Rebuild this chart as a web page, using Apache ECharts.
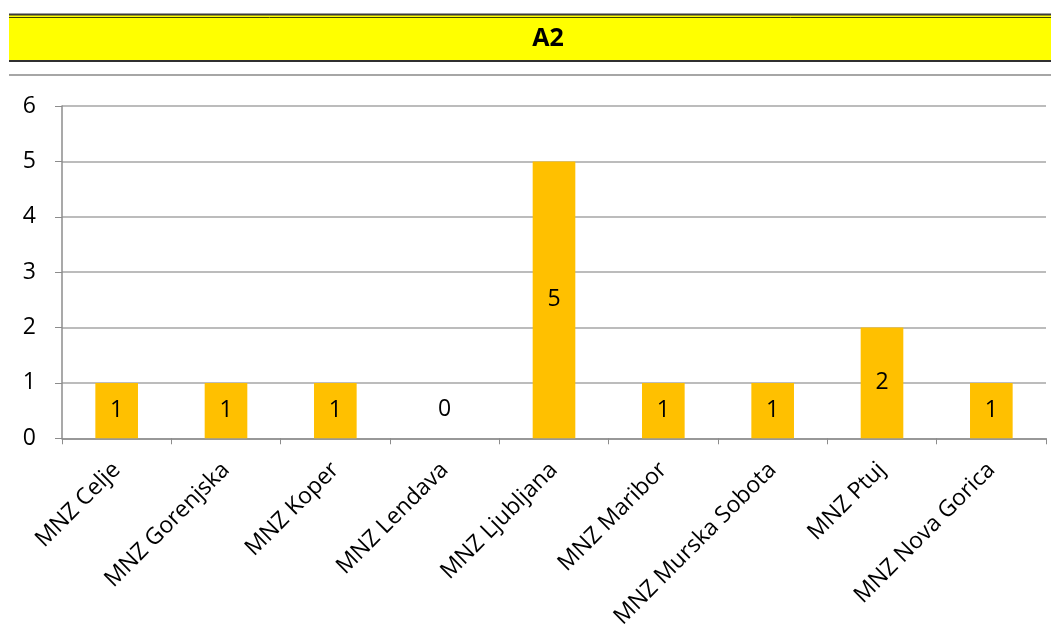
<!DOCTYPE html>
<html>
<head>
<meta charset="utf-8">
<script src="https://cdn.jsdelivr.net/npm/echarts@6/dist/echarts.min.js"></script>
<style>
html,body{margin:0;padding:0;background:#fff;}
#chart{width:1051px;height:631px;}
</style>
</head>
<body>
<div id="chart"></div>
<script>
const titleText = 'A2';
const categories = ['MNZ Celje','MNZ Gorenjska','MNZ Koper','MNZ Lendava','MNZ Ljubljana','MNZ Maribor','MNZ Murska Sobota','MNZ Ptuj','MNZ Nova Gorica'];
const values = [1,1,1,0,5,1,1,2,1];
const yTicks = [0,1,2,3,4,5,6];

const chart = echarts.init(document.getElementById('chart'));
const font = '"Open Sans", "Liberation Sans", sans-serif';
chart.setOption({
  animation: false,
  backgroundColor: '#ffffff',
  graphic: [
    {type:'rect', shape:{x:9,y:15,width:1042,height:47}, style:{fill:'#FFFF00'}},
    {type:'line', shape:{x1:9,y1:14.5,x2:1051,y2:14.5}, style:{stroke:'#3a3a3a',lineWidth:2}},
    {type:'line', shape:{x1:9,y1:17.5,x2:1051,y2:17.5}, style:{stroke:'#404000',lineWidth:1}},
    {type:'line', shape:{x1:9,y1:61,x2:1051,y2:61}, style:{stroke:'#303030',lineWidth:2}},
    {type:'line', shape:{x1:9,y1:75,x2:1051,y2:75}, style:{stroke:'#a6a6a6',lineWidth:2}},
    {type:'text', x:548, y:39, style:{text:titleText, font:'bold 25px "Open Sans", "Liberation Sans", sans-serif', fill:'#000', textAlign:'center', textVerticalAlign:'middle', verticalAlign:'middle'}}
  ],
  grid: {left:62, right:5, top:106, bottom:191, containLabel:false},
  xAxis: {
    type:'category',
    data: categories,
    axisLine:{lineStyle:{color:'#8c8c8c',width:1.5}},
    axisTick:{show:true,length:6,lineStyle:{color:'#8c8c8c'}},
    axisLabel:{rotate:45, fontSize:23, color:'#000', fontFamily:font, margin:28, interval:0}
  },
  yAxis: {
    type:'value',
    min: yTicks[0], max: yTicks[yTicks.length-1], interval:1,
    axisLine:{show:true, lineStyle:{color:'#8c8c8c',width:1.5}},
    axisTick:{show:true, length:7, lineStyle:{color:'#8c8c8c'}},
    splitLine:{lineStyle:{color:'#a6a6a6',width:1.5}},
    axisLabel:{fontSize:23, color:'#000', fontFamily:font, margin:26}
  },
  series: [{
    type:'bar',
    data: values.map(v => v === 0 ? {value:v, label:{offset:[0,-29]}} : v),
    barWidth:'39%',
    itemStyle:{color:'#FFC000'},
    label:{show:true, position:'inside', fontSize:23, color:'#000', fontFamily:font}
  }]
});
</script>
</body>
</html>
